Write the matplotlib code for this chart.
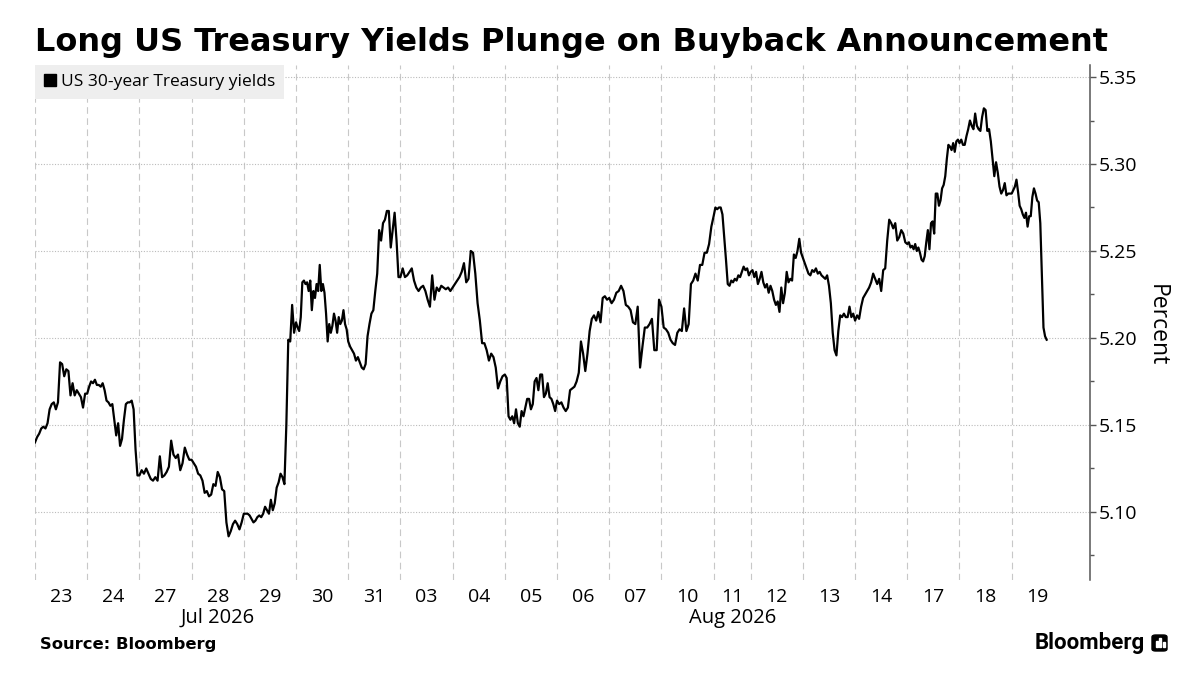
import numpy as np
import matplotlib.pyplot as plt
from matplotlib.lines import Line2D
from matplotlib.patches import FancyBboxPatch, Rectangle

# trading days on the x axis
days = ["23", "24", "27", "28", "29", "30", "31", "03", "04", "05", "06", "07",
        "10", "11", "12", "13", "14", "17", "18", "19"]
# length of each session on the axis (11 Aug is short)
session = [1, 1, 1, 1, 1, 1, 1, 1, 1, 1, 1, 1, 1, 0.71, 1, 1, 1, 1, 1, 1]
last_part = 0.7  # share of 19 Aug that has data
months = [("Jul 2026", "28"), ("Aug 2026", "11")]
yticks = [5.10, 5.15, 5.20, 5.25, 5.30, 5.35]

# US 30-year yield, intraday, one list per session
jul23 = [5.140, 5.143, 5.145, 5.148, 5.149, 5.148, 5.151, 5.159, 5.162, 5.163, 5.159, 5.163, 5.186,
         5.185, 5.178, 5.182, 5.181, 5.167, 5.174, 5.167, 5.170, 5.168, 5.166, 5.160, 5.168]
jul24 = [5.168, 5.172, 5.175, 5.174, 5.176, 5.173, 5.173, 5.172, 5.174, 5.170, 5.164, 5.163, 5.161, 5.162,
         5.153, 5.144, 5.151, 5.138, 5.142, 5.153, 5.162, 5.163, 5.163, 5.164, 5.159, 5.136, 5.121]
jul27 = [5.121, 5.124, 5.122, 5.125, 5.122, 5.119, 5.118, 5.120, 5.118, 5.132, 5.120, 5.121, 5.123,
         5.126, 5.141, 5.133, 5.131, 5.133, 5.124, 5.128, 5.137, 5.133, 5.130]
jul28 = [5.130, 5.128, 5.126, 5.122, 5.121, 5.118, 5.111, 5.112, 5.109, 5.110, 5.116, 5.115, 5.123,
         5.120, 5.113, 5.112, 5.094, 5.086, 5.089, 5.093, 5.095, 5.093, 5.090, 5.094]
jul29 = [5.099, 5.099, 5.099, 5.098, 5.096, 5.094, 5.095, 5.097, 5.098, 5.097, 5.099, 5.103, 5.101, 5.099,
         5.107, 5.101, 5.105, 5.114, 5.117, 5.122, 5.120, 5.116, 5.150, 5.199, 5.198, 5.219, 5.203]
jul30 = [5.209, 5.206, 5.204, 5.212, 5.232, 5.233, 5.231, 5.232, 5.227, 5.233, 5.216, 5.227, 5.223,
         5.231, 5.227, 5.242, 5.227, 5.231, 5.226, 5.214, 5.198, 5.208, 5.203, 5.207, 5.214, 5.210,
         5.203, 5.212, 5.208, 5.210, 5.216, 5.208, 5.205]
jul31 = [5.198, 5.195, 5.193, 5.191, 5.187, 5.189, 5.186, 5.183, 5.182, 5.185, 5.201, 5.208, 5.214,
         5.216, 5.227, 5.237, 5.262, 5.256, 5.266, 5.268, 5.273, 5.273, 5.252, 5.262, 5.272, 5.256, 5.235]
aug03 = [5.235, 5.240, 5.235, 5.236, 5.238, 5.240, 5.233, 5.229, 5.227, 5.229, 5.230, 5.227, 5.222,
         5.218, 5.236, 5.222, 5.229, 5.227, 5.230, 5.229, 5.228, 5.229, 5.227]
aug04 = [5.229, 5.231, 5.233, 5.235, 5.238, 5.243, 5.232, 5.234, 5.250, 5.249, 5.237, 5.220, 5.210,
         5.197, 5.197, 5.193, 5.187, 5.191, 5.189, 5.183, 5.171, 5.175, 5.178]
aug05 = [5.179, 5.177, 5.155, 5.153, 5.155, 5.151, 5.159, 5.151, 5.149, 5.158, 5.155, 5.160, 5.165, 5.165,
         5.159, 5.162, 5.175, 5.177, 5.170, 5.179, 5.179, 5.166, 5.168, 5.174, 5.166, 5.165, 5.162, 5.158]
aug06 = [5.164, 5.162, 5.163, 5.160, 5.158, 5.160, 5.170, 5.171, 5.172, 5.175, 5.180, 5.198, 5.191,
         5.181, 5.191, 5.204, 5.211, 5.213, 5.210, 5.215, 5.209, 5.223, 5.224, 5.222]
aug07 = [5.223, 5.220, 5.222, 5.226, 5.227, 5.230, 5.227, 5.219, 5.218, 5.216, 5.209, 5.208, 5.218,
         5.183, 5.195, 5.206, 5.206, 5.208, 5.211, 5.193, 5.193, 5.222]
aug10 = [5.218, 5.206, 5.205, 5.203, 5.199, 5.197, 5.196, 5.203, 5.205, 5.204, 5.217, 5.204, 5.208,
         5.231, 5.233, 5.237, 5.233, 5.242, 5.242, 5.249, 5.249, 5.254, 5.264]
aug11 = [5.270, 5.275, 5.274, 5.275, 5.275, 5.271, 5.258, 5.245, 5.231, 5.230, 5.233, 5.232, 5.234,
         5.233, 5.236, 5.235, 5.238, 5.241, 5.239, 5.240, 5.236]
aug12 = [5.238, 5.239, 5.235, 5.238, 5.231, 5.234, 5.238, 5.232, 5.229, 5.231, 5.226, 5.230, 5.227, 5.222,
         5.219, 5.221, 5.215, 5.229, 5.220, 5.226, 5.238, 5.232, 5.234, 5.233, 5.248, 5.246, 5.250, 5.257, 5.249]
aug13 = [5.246, 5.243, 5.240, 5.237, 5.236, 5.239, 5.238, 5.240, 5.237, 5.238, 5.236, 5.235, 5.234, 5.236,
         5.230, 5.220, 5.203, 5.193, 5.190, 5.204, 5.213, 5.212, 5.214, 5.212, 5.212, 5.218, 5.212, 5.214]
aug14 = [5.210, 5.213, 5.211, 5.218, 5.223, 5.225, 5.227, 5.229, 5.232, 5.237, 5.234, 5.231, 5.234,
         5.227, 5.239, 5.240, 5.256, 5.268, 5.266, 5.263, 5.266, 5.256, 5.258, 5.262, 5.260, 5.255]
aug17 = [5.254, 5.255, 5.252, 5.253, 5.251, 5.254, 5.250, 5.252, 5.249, 5.245, 5.244, 5.247, 5.255,
         5.262, 5.251, 5.266, 5.267, 5.260, 5.283, 5.283, 5.276, 5.279, 5.286, 5.288, 5.293, 5.303,
         5.311, 5.310, 5.308, 5.312, 5.307, 5.313, 5.314]
aug18 = [5.312, 5.314, 5.311, 5.311, 5.316, 5.320, 5.325, 5.322, 5.320, 5.329, 5.322, 5.320, 5.319,
         5.327, 5.332, 5.331, 5.319, 5.320, 5.313, 5.303, 5.293, 5.301, 5.295, 5.287, 5.283, 5.285,
         5.289, 5.282, 5.283, 5.283]
aug19 = [5.283, 5.285, 5.287, 5.291, 5.284, 5.276, 5.274, 5.271, 5.269, 5.272, 5.264, 5.270, 5.270,
         5.281, 5.286, 5.283, 5.279, 5.278, 5.266, 5.235, 5.206, 5.201, 5.199]

sessions = [jul23, jul24, jul27, jul28, jul29, jul30, jul31, aug03, aug04, aug05, aug06, aug07,
            aug10, aug11, aug12, aug13, aug14, aug17, aug18, aug19]

W, H = 1192, 696


def px(x, y):
    # pixel position -> figure fraction
    return x / W, 1 - y / H


starts = np.concatenate([[0], np.cumsum(session)[:-1]])
centers = starts + np.array(session) / 2

xs, ys = [], []
for i, vals in enumerate(sessions):
    w = session[i] * (last_part if i == len(sessions) - 1 else 1)
    xs.extend(starts[i] + w * np.arange(len(vals)) / len(vals))
    ys.extend(vals)

fig = plt.figure(figsize=(W / 100, H / 100), dpi=100)
ax = fig.add_axes([35 / W, 1 - 580 / H, (1090 - 35) / W, 515 / H])

ax.plot(xs, ys, color='black', lw=1.6, zorder=4)

ax.set_xlim(0, 20.21)
ax.set_ylim(5.0609, 5.3569)

# day boundaries as dashed grid, day labels in the middle
ax.set_xticks(starts)
ax.set_xticks(centers, minor=True)
ax.set_xticklabels([])
ax.set_xticklabels(days, minor=True)
ax.tick_params(axis='x', which='both', length=0, pad=6, labelsize=14)
ax.grid(axis='x', which='major', color='#c8c8c8', lw=0.8, ls=(0, (6, 4)))

ax.yaxis.tick_right()
ax.set_yticks(yticks)
ax.set_yticks([v - 0.025 for v in yticks], minor=True)
ax.set_yticklabels([f"{v:.2f}" for v in yticks])
ax.tick_params(axis='y', which='major', length=4.5, width=1, color='#555555', pad=2, labelsize=14)
ax.tick_params(axis='y', which='minor', length=3, width=1, color='#555555')
ax.grid(axis='y', which='major', color='#bbbbbb', lw=0.8, ls=(0, (1, 1.5)))

for s in ['left', 'top', 'bottom']:
    ax.spines[s].set_visible(False)
ax.spines['right'].set_color('#555555')
ax.spines['right'].set_linewidth(1.1)

for label in ax.get_xticklabels(minor=True) + ax.get_yticklabels():
    label.set_family('Open Sans')

for name, day in months:
    ax.text(centers[days.index(day)], -0.074, name, transform=ax.get_xaxis_transform(),
            ha='center', va='center', fontsize=14.5, family='Open Sans')

h = Line2D([], [], marker='s', color='black', ls='none', markersize=8)
ax.legend([h], ['US 30-year Treasury yields'], loc='upper left', bbox_to_anchor=(0, 1),
          borderaxespad=0, fancybox=False, facecolor='#eeeeee', edgecolor='none', framealpha=1,
          handlelength=0.7, handletextpad=0.3, borderpad=0.5,
          prop={'family': 'Open Sans', 'size': 12.5})

fig.text(*px(1157, 325), 'Percent', rotation=270, ha='center', va='center',
         fontsize=16.5, family='Open Sans')

fig.text(*px(35, 51), 'Long US Treasury Yields Plunge on Buyback Announcement',
         fontsize=23, fontweight='bold', va='baseline')
fig.text(*px(40, 645), 'Source: Bloomberg', fontsize=11.8, fontweight='bold', va='center')
fig.text(*px(1145, 643), 'Bloomberg', fontsize=16, fontweight='bold', family='Roboto',
         ha='right', va='center')

# little logo mark next to the wordmark
x0, y0 = px(1152, 651)
icon = FancyBboxPatch((x0, y0), 15 / W, 16 / H, boxstyle='round,pad=0,rounding_size=0.003',
                      transform=fig.transFigure, color='black')
fig.patches.append(icon)
for bx, bh in [(1155.5, 6), (1159, 9), (1162.5, 5)]:
    fx, fy = px(bx, 647)
    fig.patches.append(Rectangle((fx, fy), 2 / W, bh / H, transform=fig.transFigure, color='white'))

fig.savefig('out.png', dpi=100)
